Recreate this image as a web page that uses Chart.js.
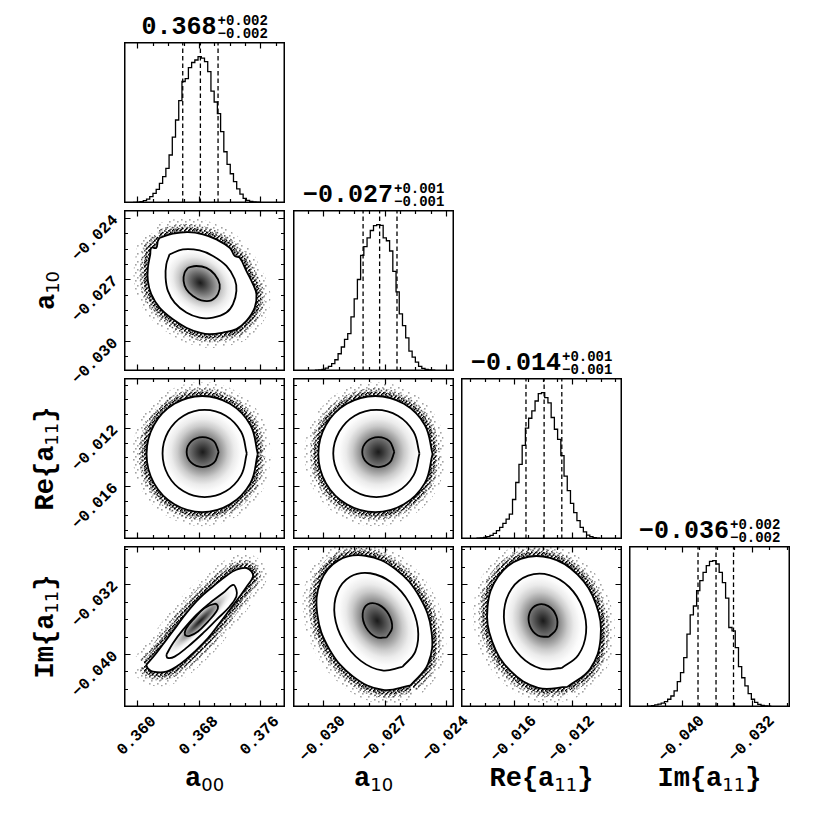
<!DOCTYPE html>
<html><head><meta charset="utf-8">
<script src="https://cdn.jsdelivr.net/npm/chart.js@4.4.1/dist/chart.umd.min.js"></script>
<style>
html,body{margin:0;padding:0;background:#fff;}
#root{position:relative;width:831px;height:831px;overflow:hidden;background:#fff;}
.panel{position:absolute;}
.panel canvas{display:block;}
.t{position:absolute;white-space:nowrap;font-family:"Liberation Mono","DejaVu Sans Mono",monospace;font-weight:bold;color:#000;line-height:1;}
.tick{font-size:16px;}
.title{font-size:25px;line-height:25px;}
.ss{display:inline-block;font-size:14px;line-height:12.3px;vertical-align:-4px;margin-left:1px;text-align:left;}
.ss span{display:block;}
.lab{font-size:27px;}
.sub{font-family:"DejaVu Sans",sans-serif;font-weight:normal;font-size:18px;position:relative;top:5px;}
</style></head><body><div id="root"></div><script>
// ---------------- data ----------------
const labelPre = ['a', 'a', 'Re{a', 'Im{a'];
const labelSub = ['00', '10', '11', '11'];
const labelPost = ['', '', '}', '}'];
const ranges = [[0.35825, 0.37922], [-0.03148, -0.02360], [-0.01965, -0.00855], [-0.04610, -0.02760]];
const tickStart = [0.360, -0.03075, -0.019, -0.046];
const tickStep = [0.002, 0.00075, 0.001, 0.002];
const majorTicks = [[0.360, 0.368, 0.376], [-0.030, -0.027, -0.024], [-0.016, -0.012], [-0.040, -0.032]];
const majorLabels = [['0.360', '0.368', '0.376'], ['\u22120.030', '\u22120.027', '\u22120.024'], ['\u22120.016', '\u22120.012'], ['\u22120.040', '\u22120.032']];
const titleMain = ['0.368', '\u22120.027', '\u22120.014', '\u22120.036'];
const titlePlus = ['+0.002', '+0.001', '+0.001', '+0.002'];
const titleMinus = ['\u22120.002', '\u22120.001', '\u22120.001', '\u22120.002'];
const quantiles = [[0.3659, 0.3682, 0.3705], [-0.02805, -0.02724, -0.02639], [-0.01517, -0.01392, -0.01270], [-0.03817, -0.03610, -0.03409]];

const histA00 = [0,0,0.1,0.2,0.4,0.5,1,1.6,2.7,4.3,6.6,9.3,13.4,18,23.7,32.8,45,56.7,70,83,85,92.5,96,97.7,100,99,96.6,89.7,76.5,69,61,48.7,35,26.4,20,14.6,9.6,6,3.2,1.8,1.1,0.7,0.5,0.2,0.1,0,0,0,0,0];
const histA10 = [0,0,0,0,0.1,0.1,0.2,0.3,0.5,0.7,1.1,2,3.2,5,7.7,11.8,16.4,21.6,25.5,37,49.3,62.5,79,85,91,96,99.3,100,99.5,91,89,82,68,54,39,31,22.7,13.6,9.5,6.1,3.2,1.8,1.1,0.7,0.5,0.3,0.2,0.1,0,0];
const histRe = [0,0,0,0.1,0.2,0.3,0.5,0.8,1.1,1.6,2.5,3.9,5.7,8,10.7,13.6,17,27,38.6,51,64,75.7,82.5,87.5,94.3,99.3,100,96.6,93,83,75,68,57,43,33,24.3,18,12.5,8,4.8,2.7,1.6,0.9,0.5,0.3,0.2,0.1,0,0,0];
const histIm = [0,0,0,0.1,0.1,0.2,0.3,0.5,0.9,1.4,2,2.7,3.7,5.3,7.5,11,17.4,23.5,33.8,49.8,63,69,79.5,86.3,92,96.6,99.5,100,97.7,92,85,74.4,54.3,52,40.6,27.6,20,14.4,9.1,5.3,3.2,1.8,1.1,0.7,0.5,0.3,0.2,0.1,0,0];

// contours (x = column parameter, y = row parameter)
const r1c0Outer = [[0.36288,-0.02496],[0.36462,-0.02476],[0.36658,-0.02468],[0.36853,-0.02479],[0.37028,-0.02504],[0.37202,-0.02545],[0.37267,-0.02585],[0.37332,-0.02594],[0.37420,-0.02659],[0.37506,-0.02724],[0.37550,-0.02772],[0.37528,-0.02838],[0.37420,-0.02903],[0.37289,-0.02943],[0.37114,-0.02960],[0.36941,-0.02968],[0.36810,-0.02960],[0.36637,-0.02936],[0.36462,-0.02895],[0.36288,-0.02838],[0.36180,-0.02772],[0.36136,-0.02707],[0.36136,-0.02643],[0.36167,-0.02577],[0.36180,-0.02545],[0.36245,-0.02545],[0.36266,-0.02512]];
const r1c0Middle = [[0.36419,-0.02577],[0.36592,-0.02553],[0.36810,-0.02558],[0.36984,-0.02585],[0.37159,-0.02634],[0.37267,-0.02699],[0.37289,-0.02756],[0.37245,-0.02821],[0.37159,-0.02862],[0.36984,-0.02887],[0.36810,-0.02887],[0.36637,-0.02862],[0.36484,-0.02813],[0.36397,-0.02756],[0.36367,-0.02691],[0.36376,-0.02626]];
const r1c0Inner = [[0.36658,-0.02643],[0.36767,-0.02634],[0.36898,-0.02643],[0.37006,-0.02675],[0.37071,-0.02724],[0.37049,-0.02772],[0.36963,-0.02802],[0.36832,-0.02802],[0.36723,-0.02781],[0.36637,-0.02748],[0.36601,-0.02707],[0.36614,-0.02667]];

const r2c0Outer = [[0.37567,-0.01379],[0.37471,-0.01179],[0.37206,-0.01033],[0.36843,-0.00979],[0.36481,-0.01033],[0.36215,-0.01179],[0.36119,-0.01379],[0.36215,-0.01580],[0.36481,-0.01726],[0.36843,-0.01780],[0.37206,-0.01726],[0.37471,-0.01580]];
const r2c0Middle = [[0.37424,-0.01376],[0.37350,-0.01226],[0.37150,-0.01115],[0.36875,-0.01075],[0.36601,-0.01115],[0.36400,-0.01226],[0.36327,-0.01376],[0.36400,-0.01526],[0.36601,-0.01636],[0.36875,-0.01676],[0.37150,-0.01636],[0.37350,-0.01526]];
const r2c0Inner = [[0.37058,-0.01365],[0.36997,-0.01292],[0.36849,-0.01262],[0.36702,-0.01292],[0.36641,-0.01365],[0.36702,-0.01439],[0.36849,-0.01469],[0.36997,-0.01439]];

const r2c1Outer = [[-0.02465,-0.01379],[-0.02503,-0.01179],[-0.02605,-0.01033],[-0.02745,-0.00979],[-0.02885,-0.01033],[-0.02987,-0.01179],[-0.03024,-0.01379],[-0.02987,-0.01580],[-0.02885,-0.01726],[-0.02745,-0.01780],[-0.02605,-0.01726],[-0.02503,-0.01580]];
const r2c1Middle = [[-0.02529,-0.01376],[-0.02558,-0.01226],[-0.02635,-0.01115],[-0.02740,-0.01075],[-0.02846,-0.01115],[-0.02922,-0.01226],[-0.02951,-0.01376],[-0.02922,-0.01526],[-0.02846,-0.01636],[-0.02740,-0.01676],[-0.02635,-0.01636],[-0.02558,-0.01526]];
const r2c1Inner = [[-0.02652,-0.01365],[-0.02675,-0.01292],[-0.02730,-0.01262],[-0.02786,-0.01292],[-0.02809,-0.01365],[-0.02786,-0.01439],[-0.02730,-0.01469],[-0.02675,-0.01439]];

const r3c0Outer = [[0.36115,-0.04127],[0.36245,-0.03992],[0.36376,-0.03839],[0.36506,-0.03686],[0.36637,-0.03531],[0.36810,-0.03359],[0.36984,-0.03225],[0.37159,-0.03102],[0.37289,-0.03033],[0.37420,-0.03013],[0.37485,-0.03052],[0.37506,-0.03110],[0.37440,-0.03206],[0.37332,-0.03340],[0.37202,-0.03493],[0.37071,-0.03646],[0.36919,-0.03819],[0.36745,-0.03973],[0.36571,-0.04107],[0.36376,-0.04204],[0.36201,-0.04204],[0.36136,-0.04165]];
const r3c0Middle = [[0.36376,-0.04011],[0.36462,-0.03877],[0.36592,-0.03724],[0.36767,-0.03551],[0.36941,-0.03416],[0.37114,-0.03301],[0.37245,-0.03206],[0.37289,-0.03263],[0.37289,-0.03340],[0.37202,-0.03455],[0.37028,-0.03608],[0.36853,-0.03762],[0.36658,-0.03916],[0.36484,-0.04031],[0.36393,-0.04046]];
const r3c0Inner = [[0.36614,-0.03762],[0.36637,-0.03704],[0.36745,-0.03589],[0.36875,-0.03474],[0.37006,-0.03424],[0.37049,-0.03455],[0.37028,-0.03513],[0.36919,-0.03628],[0.36788,-0.03743],[0.36680,-0.03793],[0.36628,-0.03789]];

const r3c1Outer = [[-0.02573,-0.04361],[-0.02487,-0.04115],[-0.02470,-0.03743],[-0.02529,-0.03344],[-0.02647,-0.03025],[-0.02793,-0.02872],[-0.02926,-0.02925],[-0.03013,-0.03171],[-0.03029,-0.03543],[-0.02971,-0.03942],[-0.02853,-0.04261],[-0.02707,-0.04414]];
const r3c1Middle = [[-0.02613,-0.04150],[-0.02549,-0.03971],[-0.02537,-0.03701],[-0.02579,-0.03413],[-0.02664,-0.03183],[-0.02770,-0.03073],[-0.02868,-0.03113],[-0.02931,-0.03292],[-0.02944,-0.03562],[-0.02901,-0.03850],[-0.02816,-0.04080],[-0.02711,-0.04190]];
const r3c1Inner = [[-0.02689,-0.03810],[-0.02663,-0.03701],[-0.02680,-0.03545],[-0.02729,-0.03434],[-0.02782,-0.03430],[-0.02807,-0.03539],[-0.02791,-0.03695],[-0.02742,-0.03806]];

const r3c2Outer = [[-0.01232,-0.04379],[-0.01075,-0.04173],[-0.01003,-0.03824],[-0.01035,-0.03427],[-0.01163,-0.03087],[-0.01352,-0.02897],[-0.01553,-0.02907],[-0.01710,-0.03113],[-0.01782,-0.03462],[-0.01750,-0.03859],[-0.01622,-0.04199],[-0.01433,-0.04389]];
const r3c2Middle = [[-0.01270,-0.04162],[-0.01156,-0.04013],[-0.01103,-0.03760],[-0.01126,-0.03474],[-0.01219,-0.03231],[-0.01356,-0.03094],[-0.01502,-0.03101],[-0.01616,-0.03250],[-0.01668,-0.03503],[-0.01645,-0.03789],[-0.01552,-0.04032],[-0.01415,-0.04169]];
const r3c2Inner = [[-0.01359,-0.03804],[-0.01307,-0.03711],[-0.01308,-0.03565],[-0.01363,-0.03451],[-0.01439,-0.03436],[-0.01492,-0.03529],[-0.01491,-0.03675],[-0.01435,-0.03789]];

// ---------------- build ----------------
const hists = [histA00, histA10, histRe, histIm];
const contourSets = {
  '1_0': [r1c0Outer, r1c0Middle, r1c0Inner],
  '2_0': [r2c0Outer, r2c0Middle, r2c0Inner],
  '2_1': [r2c1Outer, r2c1Middle, r2c1Inner],
  '3_0': [r3c0Outer, r3c0Middle, r3c0Inner],
  '3_1': [r3c1Outer, r3c1Middle, r3c1Inner],
  '3_2': [r3c2Outer, r3c2Middle, r3c2Inner]
};
const L0 = 124.4, T0 = 41.6, STEP_X = 168.3, STEP_Y = 168.25, SIZE = 161;
const shadeStops = [[0,'#1a1a1a'],[0.12,'#3a3a3a'],[0.28,'#686868'],[0.45,'#9c9c9c'],[0.6,'#cbcbcb'],[0.75,'#ebebeb'],[0.9,'#fbfbfb'],[1,'#fff']];
const root = document.getElementById('root');
const metaMap = new Map();

function makePattern(size, dots, dot, color) {
  const c = document.createElement('canvas'); c.width = size; c.height = size;
  const g = c.getContext('2d'); g.fillStyle = color;
  dots.forEach(([x, y]) => g.fillRect(x, y, dot, dot));
  return g.createPattern(c, 'repeat');
}
const pat1 = makePattern(4, [[0,0],[2,1.6],[0.8,3]], 1.6, 'rgba(0,0,0,1)');
const pat2 = makePattern(5, [[0,0],[2.6,1.8],[1.2,3.6]], 1.6, 'rgba(25,25,25,0.75)');
const pat3 = makePattern(8, [[1,1],[5,3],[3,6]], 1.6, 'rgba(70,70,70,0.5)');

function ticksFor(p) {
  const out = []; const [mn, mx] = ranges[p];
  for (let k = 0; k < 40; k++) {
    const v = +(tickStart[p] + k * tickStep[p]).toFixed(6);
    if (v > mx) break; if (v < mn) continue;
    out.push({ v, major: majorTicks[p].some(m => Math.abs(m - v) < 1e-7) });
  }
  return out;
}
function pts(arr, close) {
  const o = arr.map(p => ({ x: p[0], y: p[1] }));
  if (close) o.push({ x: arr[0][0], y: arr[0][1] });
  return o;
}
function drawShade(chart, m) {
  const { ctx, scales: { x, y } } = chart;
  const toPx = a => a.map(p => [x.getPixelForValue(p[0]), y.getPixelForValue(p[1])]);
  const mid = toPx(m.shade[1]), inn = toPx(m.shade[2]);
  let cx = 0, cy = 0; inn.forEach(p => { cx += p[0]; cy += p[1]; }); cx /= inn.length; cy /= inn.length;
  let mx = 0, my = 0; mid.forEach(p => { mx += p[0]; my += p[1]; }); mx /= mid.length; my /= mid.length;
  let a = 0, b = 0, d = 0;
  mid.forEach(p => { const dx = p[0] - mx, dy = p[1] - my; a += dx * dx; b += dx * dy; d += dy * dy; });
  a /= mid.length; b /= mid.length; d /= mid.length;
  const tr = (a + d) / 2, df = Math.sqrt(((a - d) / 2) ** 2 + b * b);
  const l1 = tr + df, l2 = Math.max(tr - df, 1);
  const th = 0.5 * Math.atan2(2 * b, a - d);
  const A = Math.sqrt(2 * l1), B = Math.sqrt(2 * l2);
  ctx.save();
  ctx.beginPath(); mid.forEach((p, i) => i ? ctx.lineTo(p[0], p[1]) : ctx.moveTo(p[0], p[1])); ctx.closePath(); ctx.clip();
  ctx.translate(cx, cy); ctx.rotate(th); ctx.scale(A, B);
  const g = ctx.createRadialGradient(0, 0, 0, 0, 0, 1);
  shadeStops.forEach(([o, c]) => g.addColorStop(o, c));
  ctx.fillStyle = g; ctx.fillRect(-5, -5, 10, 10);
  ctx.restore();
}
const panelPlugin = {
  id: 'panelDeco',
  afterDatasetDraw(chart, args) {
    const m = metaMap.get(chart.canvas);
    const ds = chart.data.datasets[args.index];
    if (m && m.shade && ds.role === 'outer') drawShade(chart, m);
  },
  afterDraw(chart) {
    const m = metaMap.get(chart.canvas);
    const { ctx, chartArea: ar, scales: { x, y } } = chart;
    ctx.save(); ctx.strokeStyle = '#000'; ctx.lineWidth = 1.2; ctx.beginPath();
    ticksFor(m.col).forEach(t => {
      const px = Math.round(x.getPixelForValue(t.v)) + 0.5;
      if (px < ar.left + 2 || px > ar.right - 2) return;
      const len = t.major ? 6.5 : 4;
      ctx.moveTo(px, ar.bottom); ctx.lineTo(px, ar.bottom - len);
      ctx.moveTo(px, ar.top); ctx.lineTo(px, ar.top + len);
    });
    if (m.row !== m.col) ticksFor(m.row).forEach(t => {
      const py = Math.round(y.getPixelForValue(t.v)) + 0.5;
      if (py < ar.top + 2 || py > ar.bottom - 2) return;
      const len = t.major ? 6.5 : 4;
      ctx.moveTo(ar.left, py); ctx.lineTo(ar.left + len, py);
      ctx.moveTo(ar.right, py); ctx.lineTo(ar.right - len, py);
    });
    ctx.stroke();
    ctx.lineWidth = 1.5;
    ctx.strokeRect(ar.left + 0.75, ar.top + 0.75, ar.right - ar.left - 1.5, ar.bottom - ar.top - 1.5);
    ctx.restore();
  }
};

const charts = {};
const pos = { left: [], top: [] };
for (let i = 0; i < 4; i++) { pos.left.push(Math.round(L0 + STEP_X * i)); pos.top.push(Math.round(T0 + STEP_Y * i)); }

for (let r = 0; r < 4; r++) {
  for (let c = 0; c <= r; c++) {
    const wrap = document.createElement('div'); wrap.className = 'panel';
    wrap.style.left = pos.left[c] + 'px'; wrap.style.top = pos.top[r] + 'px';
    const cv = document.createElement('canvas'); cv.width = SIZE; cv.height = SIZE;
    cv.style.width = SIZE + 'px'; cv.style.height = SIZE + 'px';
    wrap.appendChild(cv); root.appendChild(wrap);
    let datasets, yMin, yMax;
    const meta = { row: r, col: c };
    if (r === c) {
      const h = hists[c]; const [mn, mx] = ranges[c]; const w = (mx - mn) / h.length;
      const step = h.map((v, i) => ({ x: mn + i * w, y: v }));
      step.push({ x: mx, y: h[h.length - 1] });
      const peak = Math.max(...h);
      yMin = 0; yMax = peak * 1.1;
      datasets = [{ data: step, stepped: 'after', borderColor: '#000', borderWidth: 1.3, pointRadius: 0, fill: false, order: 1 }];
      quantiles[c].forEach(q => datasets.push({ data: [{ x: q, y: 0 }, { x: q, y: yMax }], borderColor: '#000', borderWidth: 1.3, borderDash: [4.5, 3], pointRadius: 0, fill: false, order: 2 }));
    } else {
      const set = contourSets[r + '_' + c];
      meta.shade = set;
      yMin = ranges[r][0]; yMax = ranges[r][1];
      const outer = pts(set[0], true);
      const T = 0.4;
      datasets = [
        { data: outer, borderColor: pat3, borderWidth: 28, tension: T, pointRadius: 0, fill: false, order: 8 },
        { data: outer, borderColor: pat2, borderWidth: 16, tension: T, pointRadius: 0, fill: false, order: 7 },
        { data: outer, borderColor: pat1, borderWidth: 9, tension: T, pointRadius: 0, fill: false, order: 6 },
        { role: 'outer', data: outer, borderColor: '#000', backgroundColor: '#fff', borderWidth: 1.8, tension: T, pointRadius: 0, fill: 'shape', order: 4 },
        { data: pts(set[1], true), borderColor: '#000', borderWidth: 1.8, tension: T, pointRadius: 0, fill: false, order: 3 },
        { data: pts(set[2], true), borderColor: '#000', borderWidth: 1.8, tension: T, pointRadius: 0, fill: false, order: 2 }
      ];
    }
    metaMap.set(cv, meta);
    charts[r + '_' + c] = new Chart(cv, {
      type: 'line',
      data: { datasets },
      options: {
        responsive: false, animation: false, events: [],
        layout: { padding: 0 },
        plugins: { legend: { display: false }, tooltip: { enabled: false } },
        elements: { point: { radius: 0 } },
        scales: {
          x: { type: 'linear', min: ranges[c][0], max: ranges[c][1], display: false },
          y: { type: 'linear', min: yMin, max: yMax, display: false }
        }
      },
      plugins: [panelPlugin]
    });
  }
}

// ---------------- text ----------------
function addText(cls, html) {
  const d = document.createElement('div'); d.className = 't ' + cls; d.innerHTML = html; root.appendChild(d); return d;
}
for (let c = 0; c < 4; c++) {
  const ch = charts['3_' + c]; const bottom = pos.top[3] + SIZE;
  majorTicks[c].forEach((v, i) => {
    const px = pos.left[c] + ch.scales.x.getPixelForValue(v);
    const d = addText('tick', majorLabels[c][i]);
    const w = d.offsetWidth, h = d.offsetHeight;
    const cy = bottom + 6 + (w + h) / (2 * Math.SQRT2);
    d.style.left = (px - w / 2) + 'px'; d.style.top = (cy - h / 2) + 'px';
    d.style.transform = 'rotate(-45deg)';
  });
}
for (let r = 1; r < 4; r++) {
  const ch = charts[r + '_0'];
  majorTicks[r].forEach((v, i) => {
    const py = pos.top[r] + ch.scales.y.getPixelForValue(v);
    const d = addText('tick', majorLabels[r][i]);
    const w = d.offsetWidth, h = d.offsetHeight;
    d.style.left = (pos.left[0] - 8 - w) + 'px'; d.style.top = (py - h / 2) + 'px';
    d.style.transformOrigin = '100% 50%'; d.style.transform = 'rotate(-45deg)';
  });
}
for (let c = 0; c < 4; c++) {
  const d = addText('title', titleMain[c] + '<span class="ss"><span>' + titlePlus[c] + '</span><span>' + titleMinus[c] + '</span></span>');
  const w = d.offsetWidth;
  d.style.left = (pos.left[c] + SIZE / 2 - w / 2) + 'px';
  d.style.top = (pos.top[c] - 27.5) + 'px';
}
function labelHtml(p) { return labelPre[p] + '<span class="sub">' + labelSub[p] + '</span>' + labelPost[p]; }
for (let c = 0; c < 4; c++) {
  const d = addText('lab', labelHtml(c));
  const w = d.offsetWidth;
  d.style.left = (pos.left[c] + SIZE / 2 - w / 2) + 'px';
  d.style.top = '766px';
}
for (let r = 1; r < 4; r++) {
  const d = addText('lab', labelHtml(r));
  const w = d.offsetWidth, h = d.offsetHeight;
  const cx = 47, cy = pos.top[r] + SIZE / 2;
  d.style.left = (cx - w / 2) + 'px'; d.style.top = (cy - h / 2) + 'px';
  d.style.transform = 'rotate(-90deg)';
}
</script></body></html>
